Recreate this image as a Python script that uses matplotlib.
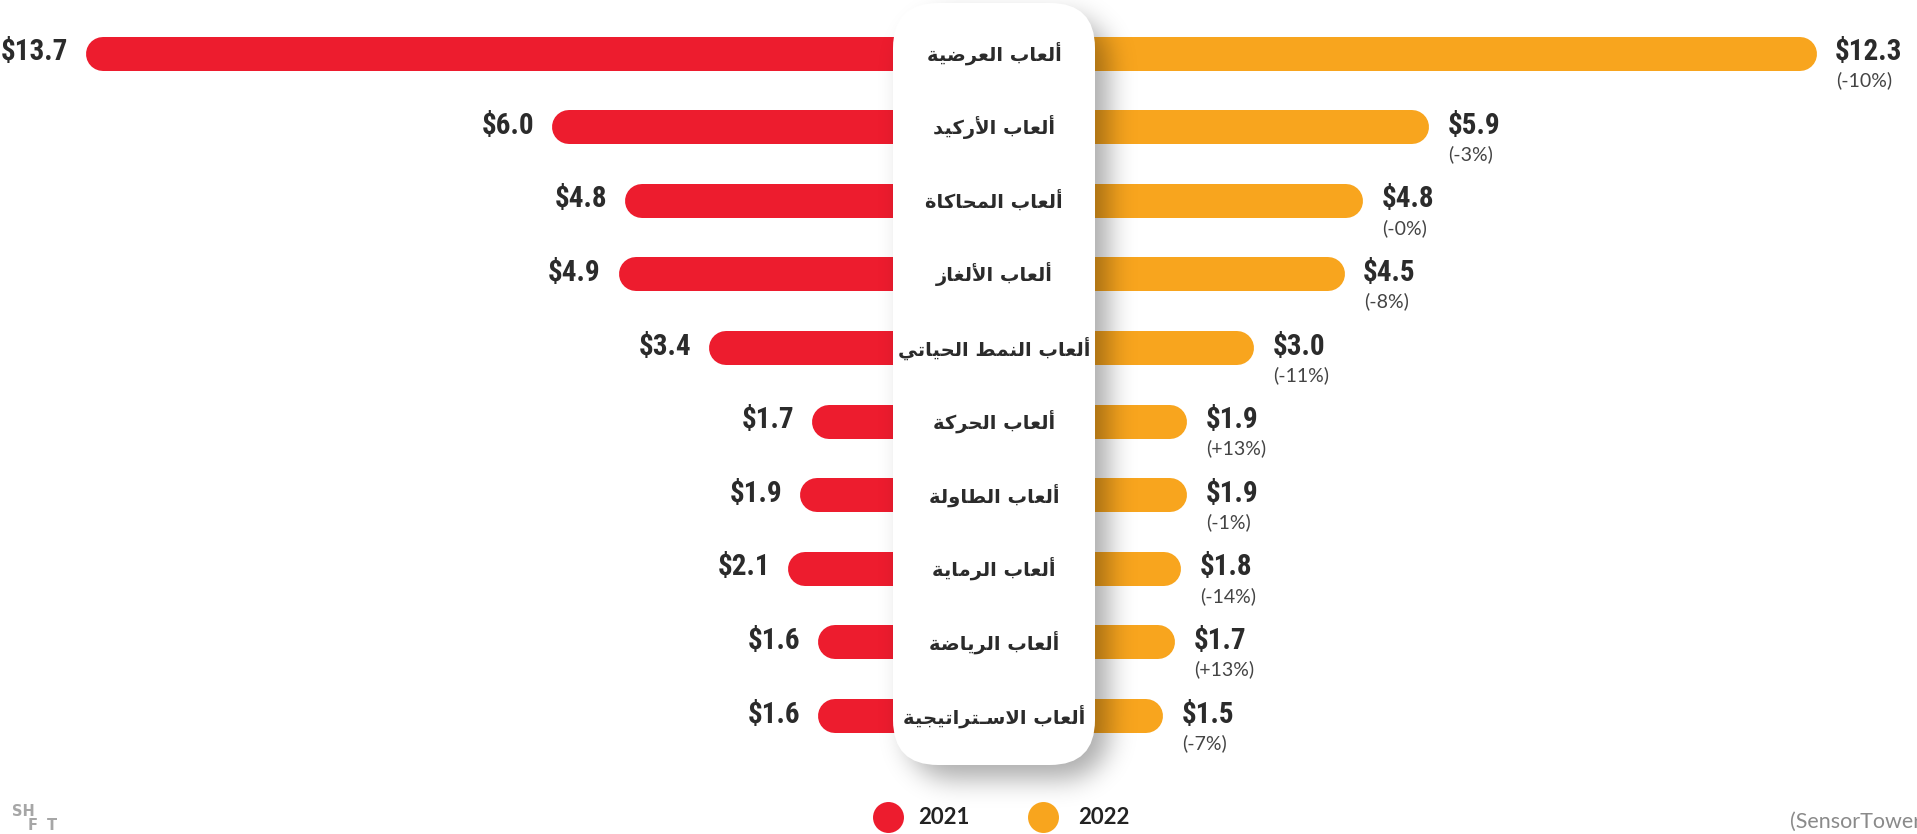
import numpy as np
import matplotlib
matplotlib.use('Agg')
import matplotlib.pyplot as plt
from matplotlib.patches import FancyBboxPatch
from matplotlib.transforms import blended_transform_factory

# Datos (ingresos en miles de millones de USD)
categorias = ['ألعاب العرضية', 'ألعاب الأركيد', 'ألعاب المحاكاة', 'ألعاب الألغاز',
              'ألعاب النمط الحياتي', 'ألعاب الحركة', 'ألعاب الطاولة', 'ألعاب الرماية',
              'ألعاب الرياضة', 'ألعاب الاسـتراتيجية']
ingresos_2021 = [13.7, 6.0, 4.8, 4.9, 3.4, 1.7, 1.9, 2.1, 1.6, 1.6]
ingresos_2022 = [12.3, 5.9, 4.8, 4.5, 3.0, 1.9, 1.9, 1.8, 1.7, 1.5]
cambio = ['-10%', '-3%', '-0%', '-8%', '-11%', '+13%', '-1%', '-14%', '+13%', '-7%']
anios = ['2021', '2022']

ROJO = '#ED1C2E'
NARANJA = '#F8A51E'
TEXTO = '#2B2B2B'

# Formas de presentacion arabes: aislada, final, inicial, media
FORMAS = {
    'ا': (0xFE8D, 0xFE8E, None, None),
    'أ': (0xFE83, 0xFE84, None, None),
    'ب': (0xFE8F, 0xFE90, 0xFE91, 0xFE92),
    'ة': (0xFE93, 0xFE94, None, None),
    'ت': (0xFE95, 0xFE96, 0xFE97, 0xFE98),
    'ج': (0xFE9D, 0xFE9E, 0xFE9F, 0xFEA0),
    'ح': (0xFEA1, 0xFEA2, 0xFEA3, 0xFEA4),
    'د': (0xFEA9, 0xFEAA, None, None),
    'ر': (0xFEAD, 0xFEAE, None, None),
    'ز': (0xFEAF, 0xFEB0, None, None),
    'س': (0xFEB1, 0xFEB2, 0xFEB3, 0xFEB4),
    'ض': (0xFEBD, 0xFEBE, 0xFEBF, 0xFEC0),
    'ط': (0xFEC1, 0xFEC2, 0xFEC3, 0xFEC4),
    'ع': (0xFEC9, 0xFECA, 0xFECB, 0xFECC),
    'غ': (0xFECD, 0xFECE, 0xFECF, 0xFED0),
    'ك': (0xFED9, 0xFEDA, 0xFEDB, 0xFEDC),
    'ل': (0xFEDD, 0xFEDE, 0xFEDF, 0xFEE0),
    'م': (0xFEE1, 0xFEE2, 0xFEE3, 0xFEE4),
    'ن': (0xFEE5, 0xFEE6, 0xFEE7, 0xFEE8),
    'و': (0xFEED, 0xFEEE, None, None),
    'ي': (0xFEF1, 0xFEF2, 0xFEF3, 0xFEF4),
}
LAM_ALEF = {'ا': (0xFEFB, 0xFEFC), 'أ': (0xFEF7, 0xFEF8)}
TATWEEL = '\u0640'


def es_arabe(c):
    return c in FORMAS or c == TATWEEL


def une_siguiente(c):
    return c == TATWEEL or (c in FORMAS and FORMAS[c][2] is not None)


def dar_forma(texto):
    # Unir letras y voltear el orden para dibujarlo de izquierda a derecha
    salida = []
    i = 0
    while i < len(texto):
        c = texto[i]
        une_prev = i > 0 and es_arabe(c) and une_siguiente(texto[i - 1])
        if c == 'ل' and i + 1 < len(texto) and texto[i + 1] in LAM_ALEF:
            lig = LAM_ALEF[texto[i + 1]]
            salida.append(chr(lig[1] if une_prev else lig[0]))
            i += 2
            continue
        if c in FORMAS:
            sig = texto[i + 1] if i + 1 < len(texto) else ''
            une_sig = une_siguiente(c) and es_arabe(sig)
            aisl, fin, ini, med = FORMAS[c]
            if une_prev and une_sig:
                salida.append(chr(med))
            elif une_prev:
                salida.append(chr(fin))
            elif une_sig:
                salida.append(chr(ini))
            else:
                salida.append(chr(aisl))
        else:
            salida.append(c)
        i += 1
    return ''.join(reversed(salida))


def caja_redondeada(xx, yy, x0, y0, x1, y1, r):
    dx = np.maximum(np.maximum(x0 + r - xx, xx - (x1 - r)), 0)
    dy = np.maximum(np.maximum(y0 + r - yy, yy - (y1 - r)), 0)
    return ((dx ** 2 + dy ** 2) <= r ** 2).astype(float)


W, H = 1917, 834
fig = plt.figure(figsize=(W / 100, H / 100), dpi=100)

# Ejes de datos: x en miles de millones, y en filas
ax = fig.add_axes([0, 0, 1, 1])
ax.axis('off')
px_x = 60.5   # pixeles por unidad
px_y = 73.6   # pixeles por fila
centro = 993.75
ax.set_xlim(-centro / px_x, (W - centro) / px_x)
ax.set_ylim((H - 53.5) / px_y, -53.5 / px_y)

gap = 61.75 / px_x
lw = 34 * 0.72
fuente_num = ['Roboto Condensed', 'DejaVu Sans']

for i in range(len(categorias)):
    v1 = ingresos_2021[i]
    v2 = ingresos_2022[i]
    ax.plot([-gap, -gap - v1], [i, i], color=ROJO, lw=lw, solid_capstyle='round', zorder=2)
    ax.plot([gap, gap + v2], [i, i], color=NARANJA, lw=lw, solid_capstyle='round', zorder=2)
    ax.annotate(f'${v1:.1f}', (-gap - v1, i), xytext=(-25, 1), textcoords='offset points',
                ha='right', va='center', fontsize=21, fontweight='bold', color=TEXTO,
                family=fuente_num, fontstretch='condensed')
    ax.annotate(f'${v2:.1f}', (gap + v2, i), xytext=(25.5, 1), textcoords='offset points',
                ha='left', va='center', fontsize=21, fontweight='bold', color=TEXTO,
                family=fuente_num, fontstretch='condensed')
    ax.annotate(f'({cambio[i]})', (gap + v2, i), xytext=(26, -19.5), textcoords='offset points',
                ha='left', va='center', fontsize=14, color='#444444', family=['Lato', 'DejaVu Sans'])

# Capa superior en pixeles: tarjeta central, sombra y leyenda
ov = fig.add_axes([0, 0, 1, 1], zorder=3)
ov.axis('off')

cx0, cy0, cx1, cy1, rad = 893, 3, 1095, 765, 45
sx0, sx1 = 840, 1200
yy, xx = np.mgrid[0:H, sx0:sx1] + 0.5
mascara = caja_redondeada(xx, yy, cx0 + 14, cy0 + 14, cx1 + 14, cy1 + 14, rad)
s = 13
k = np.arange(-3 * s, 3 * s + 1)
g = np.exp(-k ** 2 / (2 * s ** 2))
g /= g.sum()
mascara = np.apply_along_axis(lambda r: np.convolve(r, g, mode='same'), 1, mascara)
mascara = np.apply_along_axis(lambda c: np.convolve(c, g, mode='same'), 0, mascara)
sombra = np.zeros((H, sx1 - sx0, 4))
sombra[..., 3] = 0.33 * mascara
ov.imshow(sombra, extent=(sx0, sx1, H, 0), origin='upper', aspect='auto',
          interpolation='bilinear', zorder=1)

tarjeta = FancyBboxPatch((cx0, cy0), cx1 - cx0, cy1 - cy0,
                         boxstyle=f'round,pad=0,rounding_size={rad}',
                         fc='white', ec='none', zorder=2)
ov.add_patch(tarjeta)
ov.set_xlim(0, W)
ov.set_ylim(H, 0)

trans = blended_transform_factory(ov.transData, ax.transData)
for i, cat in enumerate(categorias):
    ov.text(994, i, dar_forma(cat), transform=trans, ha='center', va='center',
            fontsize=14, fontweight='bold', color=TEXTO, family=['DejaVu Sans'], zorder=4)

# Leyenda
ov.scatter([888], [817], s=22.3 ** 2, color=ROJO, zorder=4, linewidths=0)
ov.text(918, 818, anios[0], ha='left', va='center', fontsize=16, fontweight='bold',
        color='#222222', family=['Lato', 'DejaVu Sans'], zorder=4)
ov.scatter([1043], [817], s=22.3 ** 2, color=NARANJA, zorder=4, linewidths=0)
ov.text(1078, 818, anios[1], ha='left', va='center', fontsize=16, fontweight='bold',
        color='#222222', family=['Lato', 'DejaVu Sans'], zorder=4)

# Logo y fuente
ov.text(12, 811, 'SH', ha='left', va='center', fontsize=10.5, fontweight='bold', color='#A6A6A6')
ov.text(28, 826, 'F', ha='left', va='center', fontsize=10.5, fontweight='bold', color='#A6A6A6')
ov.text(47, 826, 'T', ha='left', va='center', fontsize=10.5, fontweight='bold', color='#A6A6A6')
ov.text(1790, 822, '(SensorTower)', ha='left', va='center', fontsize=15.5, color='#8A8A8A',
        family=['Lato', 'DejaVu Sans'])

fig.savefig('out.png', dpi=100, facecolor='white')
